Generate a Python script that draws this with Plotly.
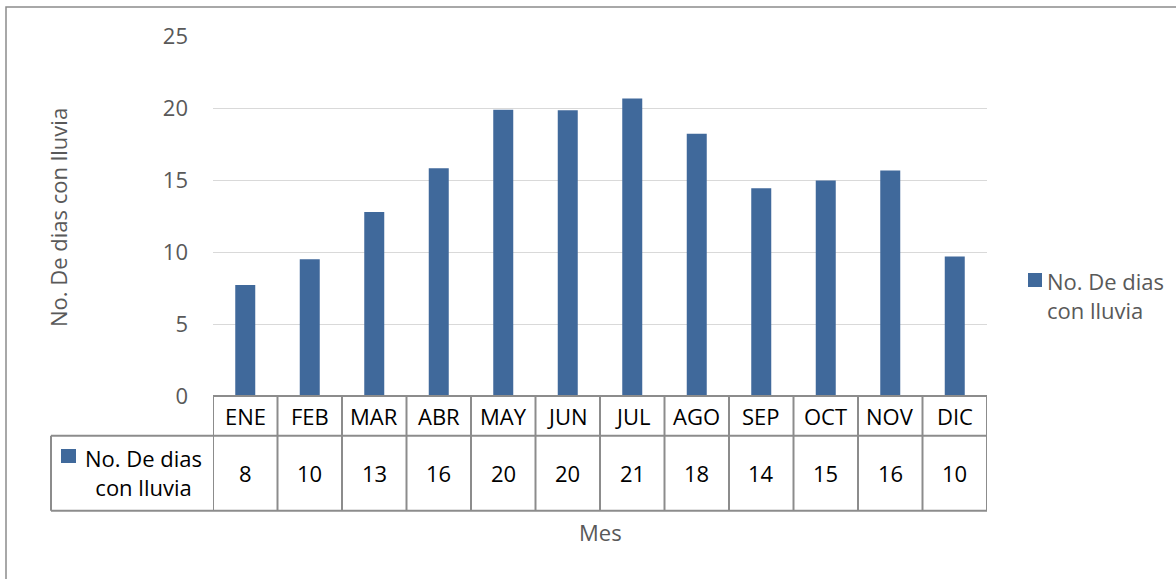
import plotly.graph_objects as go

meses = ["ENE", "FEB", "MAR", "ABR", "MAY", "JUN", "JUL", "AGO", "SEP", "OCT", "NOV", "DIC"]
dias_lluvia = [7.73, 9.52, 12.81, 15.85, 19.92, 19.89, 20.7, 18.25, 14.46, 15.0, 15.69, 9.7]
serie = "No. De dias con lluvia"
y_ticks = [0, 5, 10, 15, 20, 25]

W, H = 1176, 579
FONT = "Open Sans"
FS = 22
GRAY_TXT = "#595959"
BAR = "#40699b"
LINE = "#8c8c8c"

def px(x):
    return x / W

def py(y):
    return 1 - y / H

PLOT_L, PLOT_R = 213, 987
Y0, Y25 = 396, 36.7
HDR_BOT, ROW_BOT = 435.7, 510.7
LBL_L = 51

fig = go.Figure()
fig.add_trace(go.Bar(x=meses, y=dias_lluvia, name=serie, marker=dict(color=BAR, line=dict(width=0)),
                     showlegend=False))

shapes = []
annotations = []
n = len(meses)
# table grid
shapes.append(dict(type="line", xref="x", yref="paper", x0=-0.5, x1=n - 0.5, y0=py(Y0), y1=py(Y0),
                   line=dict(color=LINE, width=2)))
for yy in (HDR_BOT, ROW_BOT):
    shapes.append(dict(type="line", xref="paper", yref="paper", x0=px(LBL_L), x1=px(PLOT_R), y0=py(yy), y1=py(yy),
                       line=dict(color=LINE, width=2)))
for i in range(n + 1):
    shapes.append(dict(type="line", xref="x", yref="paper", x0=i - 0.5, x1=i - 0.5, y0=py(Y0), y1=py(ROW_BOT),
                       line=dict(color=LINE, width=2)))
shapes.append(dict(type="line", xref="paper", yref="paper", x0=px(LBL_L), x1=px(LBL_L), y0=py(HDR_BOT), y1=py(ROW_BOT),
                   line=dict(color=LINE, width=2)))

for i, (m, v) in enumerate(zip(meses, dias_lluvia)):
    annotations.append(dict(x=m, y=py((Y0 + HDR_BOT) / 2), xref="x", yref="paper", text=m, showarrow=False,
                            font=dict(family=FONT, size=FS, color="#000000"), xanchor="center", yanchor="middle"))
    annotations.append(dict(x=m, y=py((HDR_BOT + ROW_BOT) / 2), xref="x", yref="paper", text=str(int(round(v))),
                            showarrow=False, font=dict(family=FONT, size=FS, color="#000000"),
                            xanchor="center", yanchor="middle"))

# table legend key
shapes.append(dict(type="rect", xref="paper", yref="paper", x0=px(61), x1=px(76), y0=py(463), y1=py(449),
                   fillcolor=BAR, line=dict(width=0)))
annotations.append(dict(x=px(143), y=py(472), xref="paper", yref="paper", text="No. De dias<br>con lluvia",
                        showarrow=False, align="center", font=dict(family=FONT, size=FS, color="#000000"),
                        xanchor="center", yanchor="middle"))

# right legend
shapes.append(dict(type="rect", xref="paper", yref="paper", x0=px(1028), x1=px(1042), y0=py(287), y1=py(273),
                   fillcolor=BAR, line=dict(width=0)))
annotations.append(dict(x=px(1045), y=py(295), xref="paper", yref="paper", text="No. De dias<br>con lluvia",
                        showarrow=False, align="left", font=dict(family=FONT, size=FS, color=GRAY_TXT),
                        xanchor="left", yanchor="middle"))

# axis titles
annotations.append(dict(x=px(58), y=py(218), xref="paper", yref="paper", text="No. De dias con lluvia",
                        showarrow=False, textangle=-90, font=dict(family=FONT, size=FS, color=GRAY_TXT),
                        xanchor="center", yanchor="middle"))
annotations.append(dict(x=px(600), y=py(532), xref="paper", yref="paper", text="Mes",
                        showarrow=False, font=dict(family=FONT, size=FS, color=GRAY_TXT),
                        xanchor="center", yanchor="middle"))

# outer border
shapes.append(dict(type="rect", xref="paper", yref="paper", x0=px(6), x1=1.05, y0=-0.05, y1=py(7),
                   line=dict(color=LINE, width=1.5), fillcolor="rgba(0,0,0,0)"))

fig.update_layout(
    width=W, height=H,
    margin=dict(l=0, r=0, t=0, b=0, autoexpand=False),
    paper_bgcolor="white", plot_bgcolor="white",
    bargap=0.69,
    shapes=shapes, annotations=annotations,
    xaxis=dict(domain=[px(PLOT_L), px(PLOT_R)], showticklabels=False, showgrid=False, zeroline=False,
               showline=False, range=[-0.5, n - 0.5], fixedrange=True, automargin=False),
    yaxis=dict(domain=[py(Y0), py(Y25)], range=[0, 25], tickvals=y_ticks, showgrid=True, gridcolor="#d9d9d9",
               gridwidth=1.3, zeroline=False, showline=False, ticklabelstandoff=24, automargin=False,
               tickfont=dict(family=FONT, size=FS, color=GRAY_TXT)),
    font=dict(family=FONT),
)

fig.write_html("out.html")
